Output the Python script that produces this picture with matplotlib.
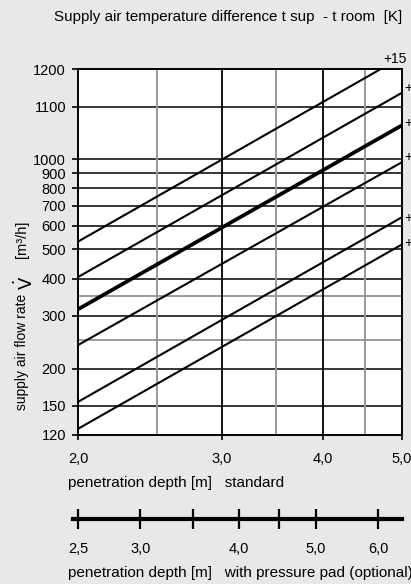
import matplotlib
matplotlib.use("Agg")
import matplotlib.pyplot as plt
from matplotlib import font_manager
from matplotlib.ticker import NullLocator

# --- data ---
depth_ends = [2.0, 5.0]                      # standard penetration depth [m]
flow_at_2m = [532, 405, 316, 240, 155, 126]  # m3/h at 2,0 m
flow_at_5m = [2200, 1670, 1300, 979, 641, 520]  # m3/h at 5,0 m
line_widths = [1.5, 1.5, 2.7, 1.5, 1.5, 1.5]
dt_labels = ["+15", "+12", "+10", "+8", "+5", "+3"]

y_tick_values = [120, 150, 200, 300, 400, 500, 600, 700, 800, 900, 1000, 1500, 2000]
y_tick_labels = ["120", "150", "200", "300", "400", "500", "600", "700", "800",
                 "900", "1000", "1100", "1200"]
y_grid_gray = [250, 350]
x_tick_values = [2, 3, 4, 5]
x_tick_labels = ["2,0", "3,0", "4,0", "5,0"]
x_grid_black = [3, 4]
x_grid_gray = [2.5, 3.5, 4.5]

pad_tick_values = [2.5, 3.0, 3.5, 4.0, 4.5, 5.0, 6.0]
pad_tick_labels = ["2,5", "3,0", "", "4,0", "", "5,0", "6,0"]

W, H = 411, 584
names = {f.name for f in font_manager.fontManager.ttflist}
fam = "Liberation Sans Narrow" if "Liberation Sans Narrow" in names else "Liberation Sans"
plt.rcParams["font.family"] = [fam, "DejaVu Sans"]


def fx(px):
    return px / W


def fy(py):
    return 1 - py / H


fig = plt.figure(figsize=(W / 100, H / 100), dpi=100, facecolor="#e8e8e8")

# main chart
ax = fig.add_axes([fx(78.3), fy(435), fx(402) - fx(78.3), fy(69.3) - fy(435)])
ax.set_facecolor("white")
ax.set_xscale("log")
ax.set_yscale("log")
ax.set_xlim(2, 5)
ax.set_ylim(120, 2000)

for v in y_tick_values[1:-1]:
    ax.axhline(v, color="black", lw=1.1, zorder=1)
for v in y_grid_gray:
    ax.axhline(v, color="#9a9a9a", lw=1.4, zorder=1)
for v in x_grid_black:
    ax.axvline(v, color="black", lw=1.3, zorder=1)
for v in x_grid_gray:
    ax.axvline(v, color="#9a9a9a", lw=1.4, zorder=1)

for y0, y1, lw in zip(flow_at_2m, flow_at_5m, line_widths):
    ax.plot(depth_ends, [y0, y1], color="black", lw=lw, zorder=3,
            solid_capstyle="butt")

ax.set_yticks(y_tick_values, labels=y_tick_labels)
ax.set_xticks(x_tick_values, labels=x_tick_labels)
ax.xaxis.set_minor_locator(NullLocator())
ax.yaxis.set_minor_locator(NullLocator())
ax.tick_params(axis="y", direction="out", length=4.5, width=1.2, pad=4.3,
               labelsize=10.5)
ax.tick_params(axis="x", direction="out", length=3.6, width=1.2, pad=8.6,
               labelsize=10.5)
for s in ax.spines.values():
    s.set_linewidth(1.4)

# labels of the temperature differences at the right edge (cut off there)
fig.text(fx(383), fy(59), dt_labels[0], fontsize=10, ha="left", va="center")
label_rows = [88, 123, 157, 218, 243]
for lab, py in zip(dt_labels[1:], label_rows):
    fig.text(fx(404), fy(py), lab, fontsize=10, ha="left", va="center")

fig.text(fx(228), fy(17), "Supply air temperature difference t sup  - t room  [K]",
         fontsize=10.9, ha="center", va="center")

# y axis label
fig.text(fx(22), fy(352), "supply air flow rate", rotation=90, fontsize=10,
         ha="center", va="center")
fig.text(fx(25), fy(283), r"$\dot{\mathrm{V}}$", rotation=90, fontsize=13,
         ha="center", va="center")
fig.text(fx(22), fy(239), "[m³/h]", rotation=90, fontsize=10.5,
         ha="center", va="center")

fig.text(fx(68), fy(483), "penetration depth [m]   standard", fontsize=11,
         ha="left", va="center")

# second scale: with pressure pad
ax2 = fig.add_axes([fx(73), fy(533), fx(402) - fx(73), fy(505) - fy(533)])
ax2.patch.set_alpha(0)
ax2.set_xscale("log")
ax2.set_xlim(2.4638, 6.435)
ax2.set_ylim(-1, 1)
for k in ["top", "left", "right"]:
    ax2.spines[k].set_visible(False)
ax2.spines["bottom"].set_position(("data", 0))
ax2.spines["bottom"].set_linewidth(3.0)
ax2.set_yticks([])
ax2.set_xticks(pad_tick_values, labels=pad_tick_labels)
ax2.xaxis.set_minor_locator(NullLocator())
ax2.tick_params(axis="x", direction="inout", length=15, width=1.6, pad=9,
                labelsize=10.5)

fig.text(fx(68), fy(573), "penetration depth [m]   with pressure pad (optional)",
         fontsize=11, ha="left", va="center")

fig.savefig("out.png", dpi=100, facecolor=fig.get_facecolor())
